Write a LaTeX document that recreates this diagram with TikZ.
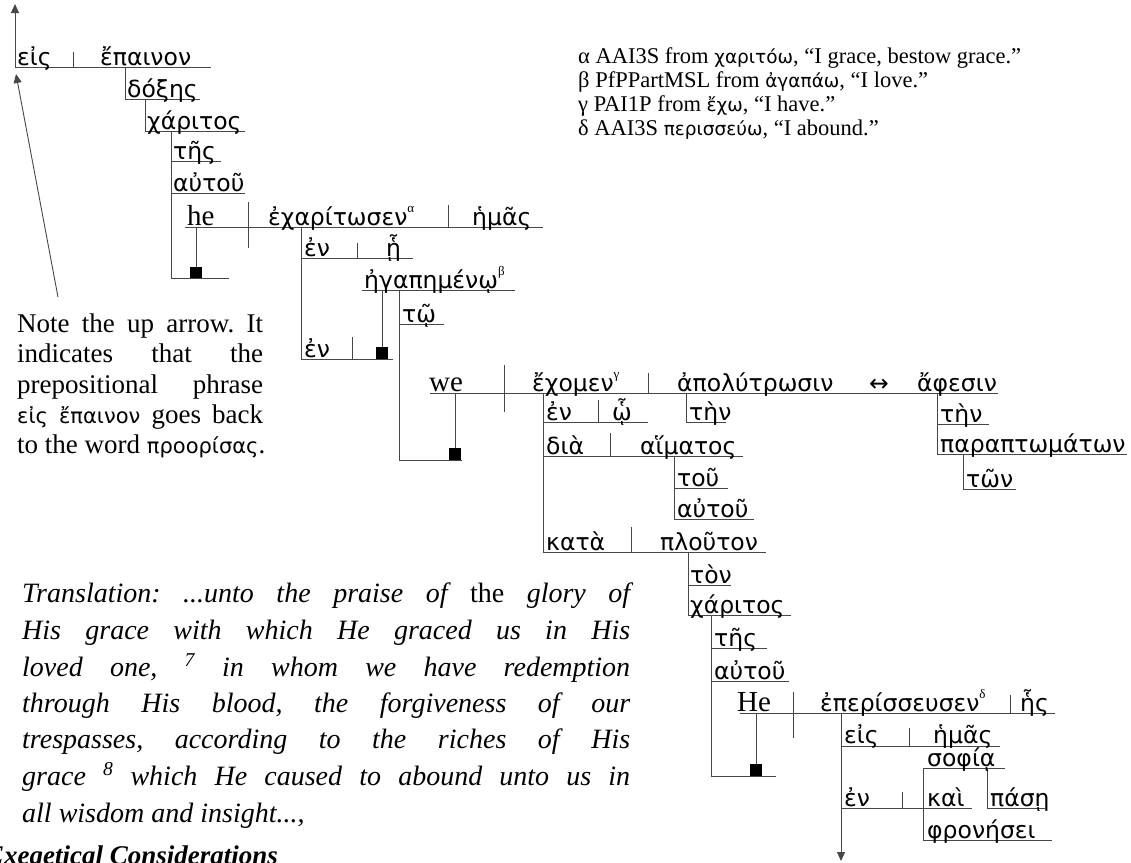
\documentclass[tikz,border=0pt]{standalone}
\usepackage{fontspec}
\setmainfont{Liberation Serif}
\newfontfamily\gkfam{DejaVu Sans}
\usetikzlibrary{arrows.meta}
% small superscript marker after a verb form
\newcommand\vmark[1]{\raisebox{0.55em}{\rmfamily\fontsize{13}{13}\selectfont #1}}
\newcommand\gkn[1]{{\gkfam\fontsize{21}{25}\selectfont #1}}
\newcommand\gkf[1]{{\gkfam\fontsize{18.5}{22}\selectfont #1}}
\frenchspacing
\begin{document}
\begin{tikzpicture}[x=1pt,y=-1pt,
  rule/.style={draw=black!72, line width=0.9pt},
  tip/.style={-{Triangle[length=9pt,width=8pt]}},
  gk/.style={font=\gkfam\fontsize{23.5}{28}\selectfont, anchor=base west, inner sep=0pt},
  en/.style={font=\fontsize{29}{34}\selectfont, anchor=base west, inner sep=0pt},
  noteline/.style={font=\fontsize{27}{30}\selectfont, anchor=base west, inner sep=0pt},
  transline/.style={font=\itshape\fontsize{28}{36}\selectfont, anchor=base west, inner sep=0pt},
  footline/.style={font=\fontsize{22.5}{24}\selectfont, anchor=base west, inner sep=0pt}]
\useasboundingbox (0,0) rectangle (1131,862);

% ---------- eis epainon doxes charitos tes autou ----------
\coordinate (up) at (15,4);
\draw[rule,tip] (15,67) -- (up);
\draw[rule] (15,67) -- (211,67);
\draw[rule] (73,52) -- (73,67);
\draw[rule] (125,67) |- (200,99);
\draw[rule] (145,99) |- (245,131);
\draw[rule] (171,131) |- (229,278);
\draw[rule] (171,161) -- (221,161);
\draw[rule] (171,193) -- (245,193);
\fill (190,267) rectangle (202,278);
\draw[rule] (196,227) -- (196,267);
\node[gk] (a1) at (17,65) {εἰς};
\node[gk] (a2) at (100,65) {ἔπαινον};
\node[gk] (a3) at (127,97) {δόξης};
\node[gk] (a4) at (147,129) {χάριτος};
\node[gk] (a5) at (173,159) {τῆς};
\node[gk] (a6) at (173,191) {αὐτοῦ};

% ---------- he echaritosen hemas ----------
\draw[rule] (185,227) -- (543,227);
\draw[rule] (248,202) -- (248,248);
\draw[rule] (448,205) -- (448,227);
\draw[rule] (301,227) |- (393,359);
\draw[rule] (301,258) -- (413,258);
\draw[rule] (357,243) -- (357,258);
\draw[rule] (362,290) -- (515,290);
\draw[rule] (382,290) -- (382,347);
\fill (376,347) rectangle (388,359);
\draw[rule] (352,337) -- (352,359);
\draw[rule] (399,290) |- (462,460);
\draw[rule] (399,324) -- (444,324);
\fill (449,448) rectangle (461,460);
\draw[rule] (455,393) -- (455,448);
\node[en] (b1) at (187,225) {he};
\node[gk] (b2) at (268,225) {ἐχαρίτωσεν\vmark{α}};
\node[gk] (b3) at (472,225) {ἡμᾶς};
\node[gk] (b4) at (304,256) {ἐν};
\node[gk] (b5) at (386,256) {ᾗ};
\node[gk] (b6) at (364,288) {ἠγαπημένῳ\vmark{β}};
\node[gk] (b7) at (402,322) {τῷ};
\node[gk] (b8) at (304,357) {ἐν};

% ---------- we echomen apolytrosin <-> aphesin ----------
\draw[rule] (430,393) -- (998,393);
\draw[rule] (504,365) -- (504,412);
\draw[rule] (648,373) -- (648,393);
\draw[rule] (686,393) |- (726,422);
\draw[rule] (937,393) |- (1127,454);
\draw[rule] (937,424) -- (989,424);
\draw[rule] (963,454) |- (1016,489);
\draw[rule] (543,393) |- (766,552);
\draw[rule] (543,422) -- (648,422);
\draw[rule] (598,400) -- (598,422);
\draw[rule] (543,456) -- (743,456);
\draw[rule] (610,433) -- (610,456);
\draw[rule] (674,456) |- (754,519);
\draw[rule] (674,488) -- (728,488);
\draw[rule] (631,527) -- (631,552);
\draw[rule] (688,552) |- (791,615);
\draw[rule] (688,585) -- (731,585);
\draw[rule] (711,615) |- (776,776);
\draw[rule] (711,648) -- (767,648);
\draw[rule] (711,681) -- (789,681);
\fill (750,764) rectangle (762,776);
\draw[rule] (756,713) -- (756,764);
\node[en] (c1) at (429,391) {we};
\node[gk] (c2) at (532,391) {ἔχομεν\vmark{γ}};
\node[gk] (c3) at (677,391) {ἀπολύτρωσιν};
\node[gk] (c4) at (869,391) {↔};
\node[gk] (c5) at (917,391) {ἄφεσιν};
\node[gk] (c6) at (689,420) {τὴν};
\node[gk] (c7) at (940,422) {τὴν};
\node[gk] (c8) at (940,452) {παραπτωμάτων};
\node[gk] (c9) at (966,487) {τῶν};
\node[gk] (c10) at (546,420) {ἐν};
\node[gk] (c11) at (612,420) {ᾧ};
\node[gk] (c12) at (546,454) {διὰ};
\node[gk] (c13) at (640,454) {αἵματος};
\node[gk] (c14) at (677,486) {τοῦ};
\node[gk] (c15) at (677,517) {αὐτοῦ};
\node[gk] (c16) at (546,550) {κατὰ};
\node[gk] (c17) at (660,550) {πλοῦτον};
\node[gk] (c18) at (690,583) {τὸν};
\node[gk] (c19) at (690,613) {χάριτος};
\node[gk] (c20) at (714,646) {τῆς};
\node[gk] (c21) at (714,679) {αὐτοῦ};

% ---------- He eperisseusen hes ----------
\coordinate (down) at (841,861);
\draw[rule] (740,713) -- (1055,713);
\draw[rule] (793,692) -- (793,738);
\draw[rule] (1010,695) -- (1010,713);
\draw[rule,tip] (841,713) -- (down);
\draw[rule] (841,746) -- (1000,746);
\draw[rule] (909,728) -- (909,746);
\draw[rule] (923,768) -- (1005,768);
\draw[rule] (923,768) |- (1052,840);
\draw[rule] (841,808) -- (972,808);
\draw[rule] (902,792) -- (902,808);
\draw[rule] (987,768) |- (1045,808);
\node[en] (d1) at (737,711) {He};
\node[gk] (d2) at (820,711) {ἐπερίσσευσεν\vmark{δ}};
\node[gk] (d3) at (1020,711) {ἧς};
\node[gk] (d4) at (844,743) {εἰς};
\node[gk] (d5) at (933,743) {ἡμᾶς};
\node[gk] (d6) at (927,766) {σοφίᾳ};
\node[gk] (d7) at (844,806) {ἐν};
\node[gk] (d8) at (927,806) {καὶ};
\node[gk] (d9) at (990,806) {πάσῃ};
\node[gk] (d10) at (927,838) {φρονήσει};

% ---------- note with its pointer ----------
\coordinate (ptail) at (58,297);
\coordinate (phead) at (16,74);
\draw[rule,tip] (ptail) -- (phead);
\node[noteline] (n1) at (17,332) {\makebox[246pt][s]{Note the up arrow. It}};
\node[noteline] (n2) at (17,362) {\makebox[246pt][s]{indicates that the}};
\node[noteline] (n3) at (17,393) {\makebox[246pt][s]{prepositional phrase}};
\node[noteline] (n4) at (17,423) {\makebox[246pt][s]{\gkn{εἰς} \gkn{ἔπαινον} goes back}};
\node[noteline] (n5) at (17,453) {to the word \gkn{προορίσας}.};

% ---------- parsing notes ----------
\node[footline] (f1) at (578,63) {α AAI3S from \gkf{χαριτόω}, “I grace, bestow grace.”};
\node[footline] (f2) at (578,87) {β PfPPartMSL from \gkf{ἀγαπάω}, “I love.”};
\node[footline] (f3) at (578,111) {γ PAI1P from \gkf{ἔχω}, “I have.”};
\node[footline] (f4) at (578,135) {δ AAI3S \gkf{περισσεύω}, “I abound.”};

% ---------- translation ----------
\node[transline] (t1) at (22,602) {\makebox[608pt][s]{Translation: ...unto the praise of {\upshape the} glory of}};
\node[transline] (t2) at (22,639) {\makebox[608pt][s]{His grace with which He graced us in His}};
\node[transline] (t3) at (22,676) {\makebox[608pt][s]{loved one, \textsuperscript{7} in whom we have redemption}};
\node[transline] (t4) at (22,712) {\makebox[608pt][s]{through His blood, the forgiveness of our}};
\node[transline] (t5) at (22,748) {\makebox[608pt][s]{trespasses, according to the riches of His}};
\node[transline] (t6) at (22,785) {\makebox[608pt][s]{grace \textsuperscript{8} which He caused to abound unto us in}};
\node[transline] (t7) at (22,822) {all wisdom and insight...,};

\node[anchor=base west, inner sep=0pt, font=\bfseries\itshape\fontsize{27}{30}\selectfont] (h1) at (-14,864) {Exegetical Considerations};
\end{tikzpicture}
\end{document}
